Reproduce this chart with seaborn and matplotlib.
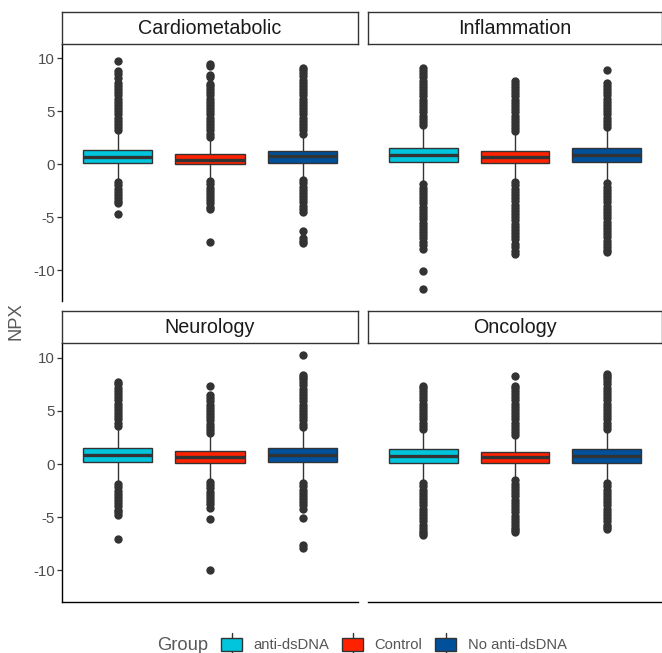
import numpy as np
import pandas as pd
import matplotlib
matplotlib.use("Agg")
import matplotlib.pyplot as plt
import seaborn as sns
from matplotlib.lines import Line2D
from matplotlib.patches import Rectangle, Patch
from matplotlib.legend_handler import HandlerBase

# ---------------- data ----------------
panels = ["Cardiometabolic", "Inflammation", "Neurology", "Oncology"]
groups = ["anti-dsDNA", "Control", "No anti-dsDNA"]
colors = ["#00C5DD", "#FF2200", "#00509B"]

# box statistics per panel (rows) and group (columns)
q1 = [[0.16, 0.00, 0.16],
      [0.22, 0.09, 0.22],
      [0.19, 0.06, 0.19],
      [0.12, 0.06, 0.12]]
median = [[0.73, 0.44, 0.78],
          [0.88, 0.72, 0.88],
          [0.85, 0.63, 0.85],
          [0.79, 0.63, 0.79]]
q3 = [[1.35, 1.00, 1.23],
      [1.57, 1.26, 1.51],
      [1.54, 1.19, 1.48],
      [1.38, 1.10, 1.38]]
whisker_hi = [[3.10, 2.45, 2.80],
              [3.55, 2.95, 3.40],
              [3.50, 2.85, 3.40],
              [3.25, 2.60, 3.25]]
whisker_lo = [[-1.60, -1.45, -1.40],
              [-1.75, -1.60, -1.65],
              [-1.80, -1.60, -1.70],
              [-1.75, -1.45, -1.75]]

# outliers (upper / lower) per panel and group
cardio_anti_hi = [3.2, 3.5, 3.8, 4.1, 4.4, 4.7, 5.0, 5.3, 5.6, 5.9, 6.2, 6.5, 6.8, 7.1, 7.4, 7.7, 8.1, 8.5, 8.8, 9.75]
cardio_anti_lo = [-1.7, -2.0, -2.3, -2.6, -2.9, -3.2, -3.5, -3.7, -4.65]
cardio_ctrl_hi = [2.6, 2.9, 3.2, 3.5, 3.8, 4.1, 4.4, 4.7, 5.0, 5.3, 5.6, 5.9, 6.2, 6.5, 6.8, 7.1, 7.4, 7.6, 8.2, 8.4, 9.3, 9.5]
cardio_ctrl_lo = [-1.6, -1.9, -2.2, -2.5, -2.8, -3.1, -3.4, -3.7, -4.0, -4.2, -7.35]
cardio_no_hi = [2.9, 3.2, 3.5, 3.8, 4.1, 4.4, 4.7, 5.0, 5.3, 5.6, 5.9, 6.2, 6.5, 6.8, 7.1, 7.4, 7.7, 8.0, 8.3, 8.6, 8.9, 9.1]
cardio_no_lo = [-1.5, -1.8, -2.1, -2.4, -2.7, -3.0, -3.3, -3.6, -3.9, -4.2, -4.55, -6.3, -7.0, -7.2, -7.4]

inflam_anti_hi = [3.7, 4.0, 4.3, 4.6, 4.9, 5.2, 5.5, 5.8, 6.1, 6.4, 6.7, 7.0, 7.3, 7.6, 7.9, 8.2, 8.5, 8.8, 9.1]
inflam_anti_lo = [-1.9, -2.2, -2.5, -2.8, -3.1, -3.4, -3.7, -4.0, -4.3, -4.6, -4.9, -5.2, -5.5, -5.8, -6.1, -6.4, -6.7, -7.0, -7.3, -7.6, -8.0, -10.05, -11.8]
inflam_ctrl_hi = [3.1, 3.4, 3.7, 4.0, 4.3, 4.6, 4.9, 5.2, 5.5, 5.8, 6.1, 6.4, 6.7, 7.0, 7.3, 7.6, 7.9]
inflam_ctrl_lo = [-1.7, -2.0, -2.3, -2.6, -2.9, -3.2, -3.5, -3.8, -4.1, -4.4, -4.7, -5.0, -5.3, -5.6, -5.9, -6.2, -6.5, -6.8, -7.05, -7.55, -7.85, -8.15, -8.45]
inflam_no_hi = [3.5, 3.8, 4.1, 4.4, 4.7, 5.0, 5.3, 5.6, 5.9, 6.2, 6.5, 6.8, 7.1, 7.4, 7.7, 8.87]
inflam_no_lo = [-1.8, -2.1, -2.4, -2.7, -3.0, -3.3, -3.6, -3.9, -4.2, -4.5, -4.8, -5.1, -5.4, -5.7, -6.0, -6.3, -6.6, -6.9, -7.2, -7.5, -7.8, -8.05, -8.25]

neuro_anti_hi = [3.6, 3.9, 4.2, 4.5, 4.8, 5.1, 5.4, 5.7, 6.0, 6.3, 6.6, 6.9, 7.2, 7.5, 7.75]
neuro_anti_lo = [-1.9, -2.2, -2.5, -2.8, -3.1, -3.4, -3.7, -4.0, -4.3, -4.55, -4.8, -7.05]
neuro_ctrl_hi = [2.9, 3.2, 3.5, 3.8, 4.1, 4.4, 4.7, 5.0, 5.3, 5.6, 5.9, 6.2, 6.5, 7.35]
neuro_ctrl_lo = [-1.7, -2.0, -2.3, -2.6, -2.9, -3.2, -3.5, -3.8, -4.1, -5.2, -9.95]
neuro_no_hi = [3.5, 3.8, 4.1, 4.4, 4.7, 5.0, 5.3, 5.6, 5.9, 6.2, 6.5, 6.8, 7.1, 7.4, 7.7, 8.0, 8.2, 8.4, 10.3]
neuro_no_lo = [-1.8, -2.1, -2.4, -2.7, -3.0, -3.3, -3.6, -3.9, -4.2, -5.1, -7.65, -7.95]

onco_anti_hi = [3.3, 3.6, 3.9, 4.2, 4.5, 4.8, 5.1, 5.4, 5.7, 6.0, 6.3, 6.6, 6.9, 7.15, 7.35]
onco_anti_lo = [-1.8, -2.1, -2.4, -2.7, -3.0, -3.3, -3.6, -3.9, -4.2, -4.5, -4.8, -5.1, -5.4, -5.7, -6.0, -6.3, -6.5, -6.7]
onco_ctrl_hi = [2.7, 3.0, 3.3, 3.6, 3.9, 4.2, 4.5, 4.8, 5.1, 5.4, 5.7, 6.0, 6.3, 6.6, 6.9, 7.15, 7.35, 8.3]
onco_ctrl_lo = [-1.55, -1.85, -2.15, -2.45, -2.75, -3.05, -3.35, -3.65, -3.95, -4.25, -4.55, -4.85, -5.15, -5.45, -5.75, -6.05, -6.25, -6.45]
onco_no_hi = [3.3, 3.6, 3.9, 4.2, 4.5, 4.8, 5.1, 5.4, 5.7, 6.0, 6.3, 6.6, 6.9, 7.2, 7.5, 7.8, 8.1, 8.3, 8.5]
onco_no_lo = [-1.8, -2.1, -2.4, -2.7, -3.0, -3.3, -3.6, -3.9, -4.2, -4.5, -4.8, -5.1, -5.4, -5.7, -5.9, -6.15]

outliers_hi = [[cardio_anti_hi, cardio_ctrl_hi, cardio_no_hi],
               [inflam_anti_hi, inflam_ctrl_hi, inflam_no_hi],
               [neuro_anti_hi, neuro_ctrl_hi, neuro_no_hi],
               [onco_anti_hi, onco_ctrl_hi, onco_no_hi]]
outliers_lo = [[cardio_anti_lo, cardio_ctrl_lo, cardio_no_lo],
               [inflam_anti_lo, inflam_ctrl_lo, inflam_no_lo],
               [neuro_anti_lo, neuro_ctrl_lo, neuro_no_lo],
               [onco_anti_lo, onco_ctrl_lo, onco_no_lo]]

# ---------------- long table reproducing the box statistics ----------------
N_REP = 400
rows = []
for p, panel in enumerate(panels):
    for g, grp in enumerate(groups):
        vals = (list(outliers_lo[p][g]) + [whisker_lo[p][g]]
                + [q1[p][g]] * N_REP + [median[p][g]] * N_REP + [q3[p][g]] * N_REP
                + [whisker_hi[p][g]] + list(outliers_hi[p][g]))
        for v in vals:
            rows.append((panel, grp, v))
df = pd.DataFrame(rows, columns=["Panel", "Group", "NPX"])

# ---------------- figure ----------------
sns.set_theme(style="white")
plt.rcParams["font.family"] = ["Liberation Sans", "DejaVu Sans"]

W, H = 662, 653
fig = plt.figure(figsize=(W / 100, H / 100), dpi=100)

def fx(px):
    return px / W

def fy(px):
    return 1 - px / H

col_x = [(62, 358), (368, 662)]
row_y = [(43.5, 301.5), (343, 601.5)]
strip_y = [(12, 43.5), (310.5, 343)]

ink = "#333333"
for p, panel in enumerate(panels):
    r, c = divmod(p, 2)
    x0, x1 = col_x[c]
    y0, y1 = row_y[r]
    ax = fig.add_axes([fx(x0), fy(y1), fx(x1) - fx(x0), fy(y0) - fy(y1)])
    sub = df[df["Panel"] == panel]
    sns.boxplot(data=sub, x="Group", y="NPX", hue="Group", order=groups,
                hue_order=groups, palette=colors, saturation=1, width=0.75,
                linecolor=ink, linewidth=1.0, fliersize=6.0, legend=False,
                flierprops=dict(marker="o", markerfacecolor=ink,
                                markeredgecolor=ink, markeredgewidth=0),
                medianprops=dict(linewidth=2.4, color=ink),
                whiskerprops=dict(color=ink, linewidth=1.0),
                capprops=dict(linewidth=0),
                ax=ax)
    ax.set_xlim(-0.6, 2.6)
    ax.set_ylim(-12.95, 11.4)
    ax.set_xlabel("")
    ax.set_ylabel("")
    ax.set_xticks([])
    ax.set_facecolor("white")
    for s in ax.spines.values():
        s.set_visible(False)
        s.set_color("black")
        s.set_linewidth(1.0)
    if c == 0:
        ax.spines["left"].set_visible(True)
        ax.set_yticks([-10, -5, 0, 5, 10])
        ax.set_yticklabels(["-10", "-5", "0", "5", "10"])
        ax.tick_params(axis="y", which="both", left=True, length=3.5, width=0.9,
                       color=ink, pad=1.5, labelsize=10.8, labelcolor="#4D4D4D")
    else:
        ax.set_yticks([])
    if r == 1:
        ax.spines["bottom"].set_visible(True)

    sy0, sy1 = strip_y[r]
    sax = fig.add_axes([fx(x0), fy(sy1), fx(x1) - fx(x0), fy(sy0) - fy(sy1)])
    sax.set_xticks([])
    sax.set_yticks([])
    sax.set_facecolor("white")
    for s in sax.spines.values():
        s.set_visible(True)
        s.set_color("#333333")
        s.set_linewidth(1.0)
    sax.text(0.5, 0.47, panel, ha="center", va="center", fontsize=14.2,
             color="#1A1A1A", transform=sax.transAxes)

fig.text(fx(16.5), fy(321.5), "NPX", rotation=90, ha="center", va="center",
         fontsize=13.2, color="#595959")

# ---------------- legend ----------------
PX = 0.72  # points per pixel at 100 dpi


class BoxKey(HandlerBase):
    def create_artists(self, legend, orig_handle, xdescent, ydescent,
                       width, height, fontsize, trans):
        cx = -xdescent + width / 2
        yc = -ydescent + height / 2
        line = Line2D([cx, cx], [yc + 11 * PX, yc - 19 * PX], color=ink,
                      lw=1.0, transform=trans)
        rect = Rectangle((-xdescent, yc - 7 * PX), width, 13 * PX,
                         facecolor=orig_handle.get_facecolor(), edgecolor=ink,
                         lw=1.0, transform=trans)
        return [line, rect]


handles = [Patch(facecolor=col) for col in colors]
leg = fig.legend(handles, groups, loc="center left",
                 bbox_to_anchor=(fx(221), fy(645)), ncol=3, frameon=False,
                 fontsize=10.6, handlelength=1.43, handleheight=1.0,
                 handletextpad=0.75, columnspacing=0.9, borderpad=0,
                 borderaxespad=0, handler_map={Patch: BoxKey()})
for t in leg.get_texts():
    t.set_color("#555555")
fig.text(fx(157), fy(645), "Group", ha="left", va="center", fontsize=13.2,
         color="#595959")

fig.savefig("out.png", dpi=100)
